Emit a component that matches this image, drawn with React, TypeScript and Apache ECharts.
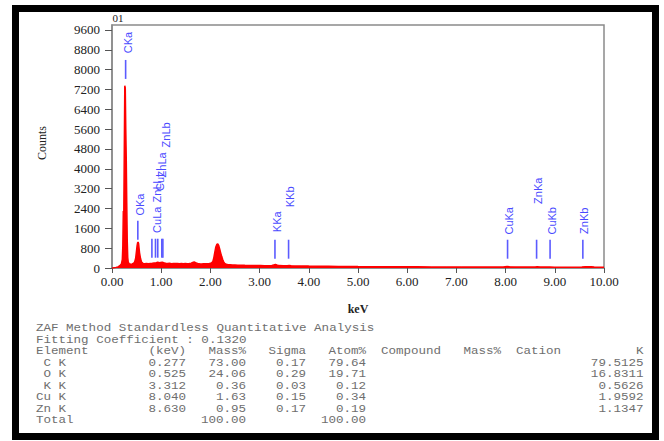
import React, { useEffect, useRef } from "react";
import * as echarts from "echarts";

// ---- Spectrum (keV, counts) ----
const spectrumKeV = [
  0.0, 0.04, 0.08, 0.12, 0.16, 0.19, 0.21, 0.22, 0.23, 0.24, 0.25, 0.26, 0.27, 0.28, 0.29, 0.3, 0.31, 0.32, 0.33, 0.35,
  0.38, 0.41, 0.44, 0.46, 0.48, 0.5, 0.51, 0.52, 0.53, 0.54, 0.55, 0.56, 0.58, 0.6, 0.63, 0.66, 0.7, 0.74, 0.78, 0.82,
  0.86, 0.9, 0.93, 0.96, 0.99, 1.02, 1.05, 1.09, 1.13, 1.17, 1.21, 1.25, 1.29, 1.33, 1.37, 1.41, 1.45, 1.49, 1.53, 1.57,
  1.61, 1.64, 1.67, 1.7, 1.74, 1.78, 1.82, 1.86, 1.9, 1.94, 1.98, 2.02, 2.05, 2.07, 2.09, 2.11, 2.13, 2.15, 2.17, 2.19,
  2.21, 2.23, 2.25, 2.27, 2.29, 2.32, 2.36, 2.4, 2.45, 2.5, 2.56, 2.62, 2.7, 2.78, 2.86, 2.94, 3.02, 3.1, 3.18, 3.25,
  3.29, 3.32, 3.35, 3.4, 3.48, 3.56, 3.6, 3.64, 3.72, 3.85, 4.0, 4.2, 4.4, 4.6, 4.8, 5.0, 5.3, 5.6, 5.9, 6.2,
  6.5, 6.8, 7.1, 7.4, 7.7, 7.95, 8.03, 8.08, 8.2, 8.5, 8.6, 8.64, 8.7, 8.9, 9.0, 9.3, 9.55, 9.62, 9.68, 9.74,
  9.8, 10.0,
];
const spectrumCounts = [
  0, 10, 25, 45, 90, 160, 350, 900, 2300, 2250, 4800, 7350, 7250, 5600, 4400, 2600, 1100, 420, 240, 170,
  150, 165, 190, 240, 380, 720, 900, 1010, 1050, 990, 800, 610, 380, 240, 185, 170, 178, 172, 185, 190,
  205, 215, 235, 215, 225, 235, 210, 190, 182, 188, 176, 184, 178, 186, 175, 180, 172, 178, 170, 182,
  195, 225, 240, 215, 185, 170, 165, 172, 168, 175, 180, 200, 260, 420, 640, 850, 950, 975, 900, 760,
  600, 460, 340, 250, 190, 150, 132, 128, 122, 118, 112, 115, 108, 104, 100, 98, 96, 94, 92, 100,
  125, 140, 120, 96, 90, 92, 100, 88, 84, 80, 76, 72, 68, 64, 62, 58, 55, 52, 48, 46,
  44, 42, 40, 40, 38, 42, 60, 50, 38, 36, 42, 50, 38, 38, 35, 34, 36, 50, 55, 48,
  36, 32,
];

// ---- Axis ticks ----
const yTicks = [0, 800, 1600, 2400, 3200, 4000, 4800, 5600, 6400, 7200, 8000, 8800, 9600];
const xTicks = [0, 1, 2, 3, 4, 5, 6, 7, 8, 9, 10];

// ---- KLM markers ----
const markerNames = ["CKa", "OKa", "CuLl", "ZnLl", "CuLa", "ZnLa", "ZnLb", "KKa", "KKb", "CuKa", "ZnKa", "CuKb", "ZnKb"];
const markerKeV = [0.277, 0.525, 0.811, 0.884, 0.93, 1.012, 1.034, 3.312, 3.589, 8.04, 8.63, 8.904, 9.57];
const markerLow = [7625, 1140, 415, 415, 415, 415, 415, 375, 375, 375, 375, 375, 375];
const markerHigh = [8390, 1905, 1180, 1180, 1180, 1180, 1180, 1140, 1140, 1140, 1140, 1140, 1140];
const markerLabelKeV = [0.33, 0.56, 0.98, 0.92, 0.92, 1.02, 1.1, 3.35, 3.62, 8.06, 8.66, 8.94, 9.6];
const markerLabelCounts = [9090, 2560, 3560, 3075, 1945, 4160, 5370, 1865, 2870, 1905, 3115, 1905, 1905];

// ---- Quantitative table ----
const tableTitle = "ZAF Method Standardless Quantitative Analysis";
const tableFit = "Fitting Coefficient : 0.1320";
const tableHeader = ["Element", "(keV)", "Mass%", "Sigma", "Atom%", "Compound", "Mass%", "Cation", "K"];
const tableElements = ["C K", "O K", "K K", "Cu K", "Zn K"];
const tableKeV = ["0.277", "0.525", "3.312", "8.040", "8.630"];
const tableMass = ["73.00", "24.06", "0.36", "1.63", "0.95"];
const tableSigma = ["0.17", "0.29", "0.03", "0.15", "0.17"];
const tableAtom = ["79.64", "19.71", "0.12", "0.34", "0.19"];
const tableK = ["79.5125", "16.8311", "0.5626", "1.9592", "1.1347"];
const tableTotal = ["Total", "100.00", "100.00"];

const SERIF = '"Liberation Serif", "Times New Roman", serif';
const MONO = '"Liberation Mono", "Courier New", monospace';

function txt(text: string, x: number, y: number, align: string) {
  return {
    type: "text",
    x,
    y,
    z: 50,
    scaleX: 1.14,
    style: {
      text,
      font: `11px ${MONO}`,
      fill: "#6e6e6e",
      align,
      textAlign: align,
      verticalAlign: "middle",
      textVerticalAlign: "middle",
    },
  };
}

function buildTable() {
  const rowY = [328.5, 340, 351.5, 363, 374.5, 386, 397.5, 409, 420.5];
  const els: any[] = [];
  els.push(txt(tableTitle, 36, rowY[0], "left"));
  els.push(txt(tableFit, 36, rowY[1], "left"));
  const hy = rowY[2];
  els.push(txt(tableHeader[0], 36, hy, "left"));
  els.push(txt(tableHeader[1], 186, hy, "right"));
  els.push(txt(tableHeader[2], 246, hy, "right"));
  els.push(txt(tableHeader[3], 306, hy, "right"));
  els.push(txt(tableHeader[4], 366, hy, "right"));
  els.push(txt(tableHeader[5], 381, hy, "left"));
  els.push(txt(tableHeader[6], 463.5, hy, "left"));
  els.push(txt(tableHeader[7], 516, hy, "left"));
  els.push(txt(tableHeader[8], 643.5, hy, "right"));
  tableElements.forEach((e, i) => {
    const y = rowY[3 + i];
    els.push(txt(e, 66, y, "right"));
    els.push(txt(tableKeV[i], 186, y, "right"));
    els.push(txt(tableMass[i], 246, y, "right"));
    els.push(txt(tableSigma[i], 306, y, "right"));
    els.push(txt(tableAtom[i], 366, y, "right"));
    els.push(txt(tableK[i], 643.5, y, "right"));
  });
  const ty = rowY[8];
  els.push(txt(tableTotal[0], 36, ty, "left"));
  els.push(txt(tableTotal[1], 246, ty, "right"));
  els.push(txt(tableTotal[2], 366, ty, "right"));
  return els;
}

export default function App() {
  const ref = useRef<HTMLDivElement>(null);

  useEffect(() => {
    if (!ref.current) return;
    const chart = echarts.init(ref.current, undefined, { renderer: "svg" });

    const spectrum = spectrumKeV.map((k, i) => [k, spectrumCounts[i]]);
    const markers = markerKeV.map((k, i) => [k, markerLow[i], markerHigh[i], markerLabelKeV[i], markerLabelCounts[i]]);

    const option: any = {
      animation: false,
      backgroundColor: "#ffffff",
      grid: {
        left: 112,
        right: 60,
        top: 25,
        bottom: 173,
        show: true,
        borderColor: "#8a8a8a",
        borderWidth: 1.5,
        outerBoundsMode: "none",
        containLabel: false,
      },
      xAxis: {
        type: "value",
        min: 0,
        max: 10,
        interval: 1,
        axisLine: { show: true, lineStyle: { color: "#8a8a8a", width: 1.5 } },
        axisTick: { show: true, length: 5, lineStyle: { color: "#555", width: 1 } },
        axisLabel: {
          margin: 7,
          color: "#222",
          fontFamily: SERIF,
          fontSize: 13,
          formatter: (v: number) => (xTicks.indexOf(v) >= 0 ? v.toFixed(2) : ""),
        },
        splitLine: { show: false },
      },
      yAxis: {
        type: "value",
        min: 0,
        max: 9800,
        axisLine: { show: true, lineStyle: { color: "#8a8a8a", width: 1.5 } },
        axisTick: { show: true, length: 7, customValues: yTicks, lineStyle: { color: "#555", width: 1 } },
        axisLabel: {
          customValues: yTicks,
          margin: 12,
          color: "#222",
          fontFamily: SERIF,
          fontSize: 13,
          formatter: (v: number) => String(v),
        },
        splitLine: { show: false },
      },
      series: [
        {
          type: "line",
          data: spectrum,
          showSymbol: false,
          symbol: "none",
          lineStyle: { color: "#ff0000", width: 1.5 },
          areaStyle: { color: "#ff0000", opacity: 1 },
          z: 3,
        },
        {
          type: "custom",
          data: markers,
          encode: { x: [0, 3], y: [1, 2, 4] },
          clip: false,
          z: 4,
          renderItem: (params: any, api: any) => {
            const i = params.dataIndex;
            const p1 = api.coord([api.value(0), api.value(1)]);
            const p2 = api.coord([api.value(0), api.value(2)]);
            const pl = api.coord([api.value(3), api.value(4)]);
            return {
              type: "group",
              children: [
                {
                  type: "line",
                  shape: { x1: p1[0], y1: p1[1], x2: p2[0], y2: p2[1] },
                  style: { stroke: "#5b5bff", lineWidth: 1.6 },
                },
                {
                  type: "text",
                  x: pl[0],
                  y: pl[1],
                  rotation: Math.PI / 2,
                  style: {
                    text: markerNames[i],
                    fill: "#4a4aff",
                    font: '11px "Liberation Sans", Arial, sans-serif',
                    align: "center",
                    verticalAlign: "middle",
                  },
                },
              ],
            };
          },
        },
      ],
      graphic: [
        {
          type: "text",
          x: 118,
          y: 18,
          style: { text: "01", font: `11px ${SERIF}`, fill: "#222", align: "center", verticalAlign: "middle" },
        },
        {
          type: "text",
          x: 42,
          y: 143,
          rotation: Math.PI / 2,
          style: { text: "Counts", font: `12px ${SERIF}`, fill: "#222", align: "center", verticalAlign: "middle" },
        },
        {
          type: "text",
          x: 358,
          y: 309,
          style: { text: "keV", font: `bold 12px ${SERIF}`, fill: "#222", align: "center", verticalAlign: "middle" },
        },
        ...buildTable(),
        {
          type: "rect",
          z: 100,
          shape: { x: 15.5, y: 8.5, width: 640, height: 428 },
          style: { fill: "none", stroke: "#000000", lineWidth: 7 },
        },
      ],
    };

    chart.setOption(option);
    return () => chart.dispose();
  }, []);

  return (
    <div style={{ position: "fixed", left: 0, top: 0, width: 664, height: 441, background: "#fff" }}>
      <div ref={ref} style={{ width: 664, height: 441 }} />
    </div>
  );
}
